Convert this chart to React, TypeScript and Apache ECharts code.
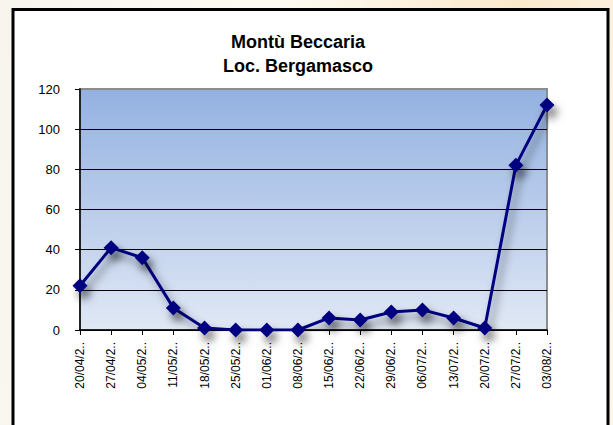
import React, { useEffect, useRef } from "react";
import * as echarts from "echarts";

const titleLines = ["Montù Beccaria", "Loc. Bergamasco"];
const categories = [
  "20/04/2..", "27/04/2..", "04/05/2..", "11/05/2..", "18/05/2..", "25/05/2..",
  "01/06/2..", "08/06/2..", "15/06/2..", "22/06/2..", "29/06/2..", "06/07/2..",
  "13/07/2..", "20/07/2..", "27/07/2..", "03/08/2..",
];
const values = [22, 41, 36, 11, 1, 0, 0, 0, 6, 5, 9, 10, 6, 1, 82, 112];
const yTicks = [0, 20, 40, 60, 80, 100, 120];

const FONT = "'Liberation Sans', Arial, sans-serif";

export default function App() {
  const ref = useRef<HTMLDivElement>(null);
  useEffect(() => {
    if (!ref.current) return;
    const chart = echarts.init(ref.current, null, { renderer: "svg" });
    chart.setOption({
      animation: false,
      backgroundColor: "transparent",
      textStyle: { fontFamily: FONT },
      graphic: [
        {
          type: "rect",
          z: -10,
          shape: { x: 13, y: 9.5, width: 595, height: 430 },
          style: { fill: "#ffffff", stroke: "#000000", lineWidth: 3 },
        },
      ],
      title: {
        text: titleLines.join("\n"),
        left: 293,
        top: 25,
        textAlign: "center",
        textStyle: {
          fontFamily: FONT,
          fontSize: 18,
          fontWeight: "bold",
          color: "#000",
          lineHeight: 24,
        },
      },
      grid: {
        left: 80,
        top: 89,
        width: 467,
        height: 241,
        show: true,
        borderColor: "#8c8c8c",
        borderWidth: 2,
        backgroundColor: new echarts.graphic.LinearGradient(0, 0, 0, 1, [
          { offset: 0, color: "#93b1e1" },
          { offset: 1, color: "#e0e8f5" },
        ]),
      },
      xAxis: {
        type: "category",
        data: categories,
        boundaryGap: false,
        axisLine: { show: true, lineStyle: { color: "#000", width: 1.5 } },
        axisTick: { show: true, length: 5, interval: 0, lineStyle: { color: "#000" } },
        axisLabel: {
          interval: 0,
          rotate: 90,
          margin: 12,
          fontSize: 12,
          color: "#000",
          fontFamily: FONT,
        },
        splitLine: { show: false },
      },
      yAxis: {
        type: "value",
        min: yTicks[0],
        max: yTicks[yTicks.length - 1],
        interval: 20,
        axisLine: { show: true, lineStyle: { color: "#000", width: 1.5 } },
        axisTick: { show: true, length: 5, lineStyle: { color: "#000" } },
        axisLabel: { margin: 20, fontSize: 13, color: "#000", fontFamily: FONT },
        splitLine: {
          show: true,
          lineStyle: {
            color: ["#000", "#000", "#000", "#000", "#000", "#000", "#8c8c8c"],
            width: 1,
          },
        },
      },
      series: [
        {
          type: "line",
          data: values,
          symbol: "diamond",
          symbolSize: 15,
          lineStyle: {
            color: "#000080",
            width: 3,
            shadowColor: "rgba(0,0,0,0.5)",
            shadowBlur: 8,
            shadowOffsetX: 4,
            shadowOffsetY: 6,
          },
          itemStyle: {
            color: "#000080",
            borderWidth: 0,
            shadowColor: "rgba(0,0,0,0.55)",
            shadowBlur: 8,
            shadowOffsetX: 4,
            shadowOffsetY: 7,
          },
        },
      ],
    });
    return () => chart.dispose();
  }, []);

  return (
    <div
      style={{
        position: "fixed",
        left: 0,
        top: 0,
        width: 613,
        height: 425,
        background:
          "linear-gradient(100deg, #f7f5ee 0%, #fdfbf2 40%, #fbe9cc 75%, #fdf6e8 100%)",
      }}
    >
      <div ref={ref} style={{ width: 613, height: 425 }} />
    </div>
  );
}
